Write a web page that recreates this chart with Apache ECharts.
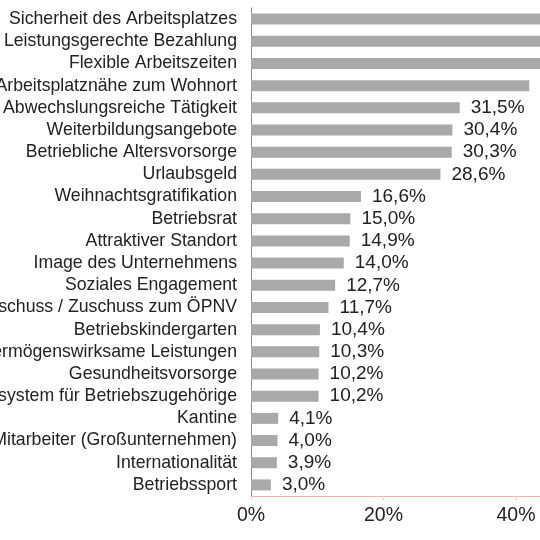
<!DOCTYPE html>
<html>
<head>
<meta charset="utf-8">
<script src="https://cdn.jsdelivr.net/npm/echarts@6/dist/echarts.min.js"></script>
<style>
html,body{margin:0;padding:0;background:#fff;}
#chart{width:540px;height:540px;}
</style>
</head>
<body>
<div id="chart"></div>
<script>
var categories = [
  "Sicherheit des Arbeitsplatzes",
  "Leistungsgerechte Bezahlung",
  "Flexible Arbeitszeiten",
  "Arbeitsplatznähe zum Wohnort",
  "Abwechslungsreiche Tätigkeit",
  "Weiterbildungsangebote",
  "Betriebliche Altersvorsorge",
  "Urlaubsgeld",
  "Weihnachtsgratifikation",
  "Betriebsrat",
  "Attraktiver Standort",
  "Image des Unternehmens",
  "Soziales Engagement",
  "Fahrtkostenzuschuss / Zuschuss zum ÖPNV",
  "Betriebskindergarten",
  "Vermögenswirksame Leistungen",
  "Gesundheitsvorsorge",
  "Prämiensystem für Betriebszugehörige",
  "Kantine",
  "Viele Mitarbeiter (Großunternehmen)",
  "Internationalität",
  "Betriebssport"
];
var values = [62.0, 55.0, 48.0, 42.0, 31.5, 30.4, 30.3, 28.6, 16.6, 15.0, 14.9, 14.0, 12.7, 11.7, 10.4, 10.3, 10.2, 10.2, 4.1, 4.0, 3.9, 3.0];
var xTicks = [0, 20, 40, 60, 80];

var chart = echarts.init(document.getElementById('chart'));
chart.setOption({
  animation: false,
  backgroundColor: '#ffffff',
  grid: { left: 251, top: 8, bottom: 44, right: -241, outerBoundsMode: 'none', containLabel: false },
  xAxis: {
    type: 'value',
    min: xTicks[0],
    max: xTicks[xTicks.length - 1],
    interval: 20,
    splitLine: { show: false },
    axisLine: { show: true, lineStyle: { color: '#e8b8a8', width: 1 } },
    axisTick: { show: true, length: 4, lineStyle: { color: '#e6d0c8' } },
    axisLabel: {
      formatter: function (v) { return v + '%'; },
      color: '#222', fontSize: 19.5, fontFamily: 'Liberation Sans, Arial, sans-serif', margin: 10
    }
  },
  yAxis: {
    type: 'category',
    inverse: true,
    data: categories,
    axisLine: { show: true, lineStyle: { color: '#8a8a8a', width: 1 } },
    axisTick: { show: false },
    axisLabel: {
      interval: 0,
      hideOverlap: false,
      color: '#222', fontSize: 17.7, fontFamily: 'Liberation Sans, Arial, sans-serif', margin: 14
    }
  },
  series: [{
    type: 'bar',
    data: values,
    barWidth: 11,
    itemStyle: { color: '#a9a9a9' },
    label: {
      show: true,
      position: 'right',
      distance: 11,
      color: '#222',
      fontSize: 19,
      fontFamily: 'Liberation Sans, Arial, sans-serif',
      formatter: function (p) { return p.value.toFixed(1).replace('.', ',') + '%'; }
    }
  }]
});
</script>
</body>
</html>
